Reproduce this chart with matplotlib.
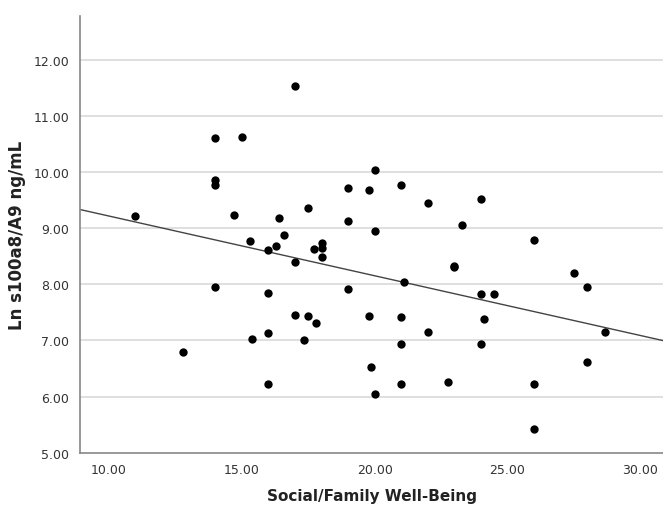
import numpy as np
import matplotlib
matplotlib.use("Agg")
import matplotlib.pyplot as plt

# Social/Family Well-Being scores
social_family = [11.0, 12.8, 14.0, 14.0, 14.0, 14.0, 15.0, 14.7, 15.3, 15.4,
                 16.0, 16.0, 16.0, 16.0, 16.3, 16.4, 16.6, 17.0, 17.0, 17.0,
                 17.5, 17.5, 17.35, 17.7, 17.8, 18.0, 18.0, 18.0, 19.0, 19.0,
                 19.0, 19.8, 19.8, 19.85, 20.0, 20.0, 20.0, 21.0, 21.0, 21.0,
                 21.0, 21.1, 22.0, 22.0, 22.75, 23.0, 23.0, 23.3, 24.0, 24.0,
                 24.0, 24.1, 24.5, 26.0, 26.0, 26.0, 27.5, 28.0, 28.0, 28.65]
# Ln s100a8/A9 ng/mL
ln_s100 = [9.22, 6.80, 10.61, 9.85, 9.77, 7.96, 10.62, 9.23, 8.77, 7.03,
           8.61, 7.84, 7.13, 6.23, 8.68, 9.18, 8.87, 11.53, 8.40, 7.45,
           9.36, 7.43, 7.00, 8.62, 7.32, 8.74, 8.65, 8.48, 9.72, 9.12,
           7.92, 9.67, 7.44, 6.53, 10.03, 8.94, 6.04, 9.77, 7.41, 6.93,
           6.23, 8.04, 9.45, 7.15, 6.27, 8.33, 8.30, 9.06, 9.52, 7.82,
           6.94, 7.39, 7.82, 8.79, 6.23, 5.43, 8.21, 7.96, 6.62, 7.15]

# Fit line as displayed (intercept, slope)
fit_intercept = 10.278
fit_slope = -0.1063

x_ticks = [10, 15, 20, 25, 30]
y_ticks = [5, 6, 7, 8, 9, 10, 11, 12]

fig = plt.figure(figsize=(6.63, 5.06), dpi=100)
ax = fig.add_axes([0.121, 0.103, 0.879, 0.864])

ax.set_xlim(8.92, 30.85)
ax.set_ylim(5.0, 12.78)

for yv in y_ticks[1:]:
    ax.axhline(yv, color="#d9d9d9", lw=1.2, zorder=0)

xs = np.array(ax.get_xlim())
ax.plot(xs, fit_intercept + fit_slope * xs, color="#444444", lw=1.0, zorder=2)

ax.scatter(social_family, ln_s100, s=36, color="black", zorder=3, linewidths=0)

ax.set_xticks(x_ticks)
ax.set_xticklabels([f"{v:.2f}" for v in x_ticks])
ax.set_yticks(y_ticks)
ax.set_yticklabels([f"{v:.2f}" for v in y_ticks])
ax.tick_params(axis="both", length=0, labelsize=9, colors="#333333", pad=8)
ax.tick_params(axis="x", pad=7)

for s in ["top", "right"]:
    ax.spines[s].set_visible(False)
for s in ["left", "bottom"]:
    ax.spines[s].set_color("#888888")
    ax.spines[s].set_linewidth(1.2)

ax.set_xlabel("Social/Family Well-Being", fontsize=11, fontweight="bold",
              color="#222222", labelpad=9)
ax.set_ylabel("Ln s100a8/A9 ng/mL", fontsize=12, fontweight="bold",
              color="#222222", labelpad=5)

fig.savefig("out.png", dpi=100)
